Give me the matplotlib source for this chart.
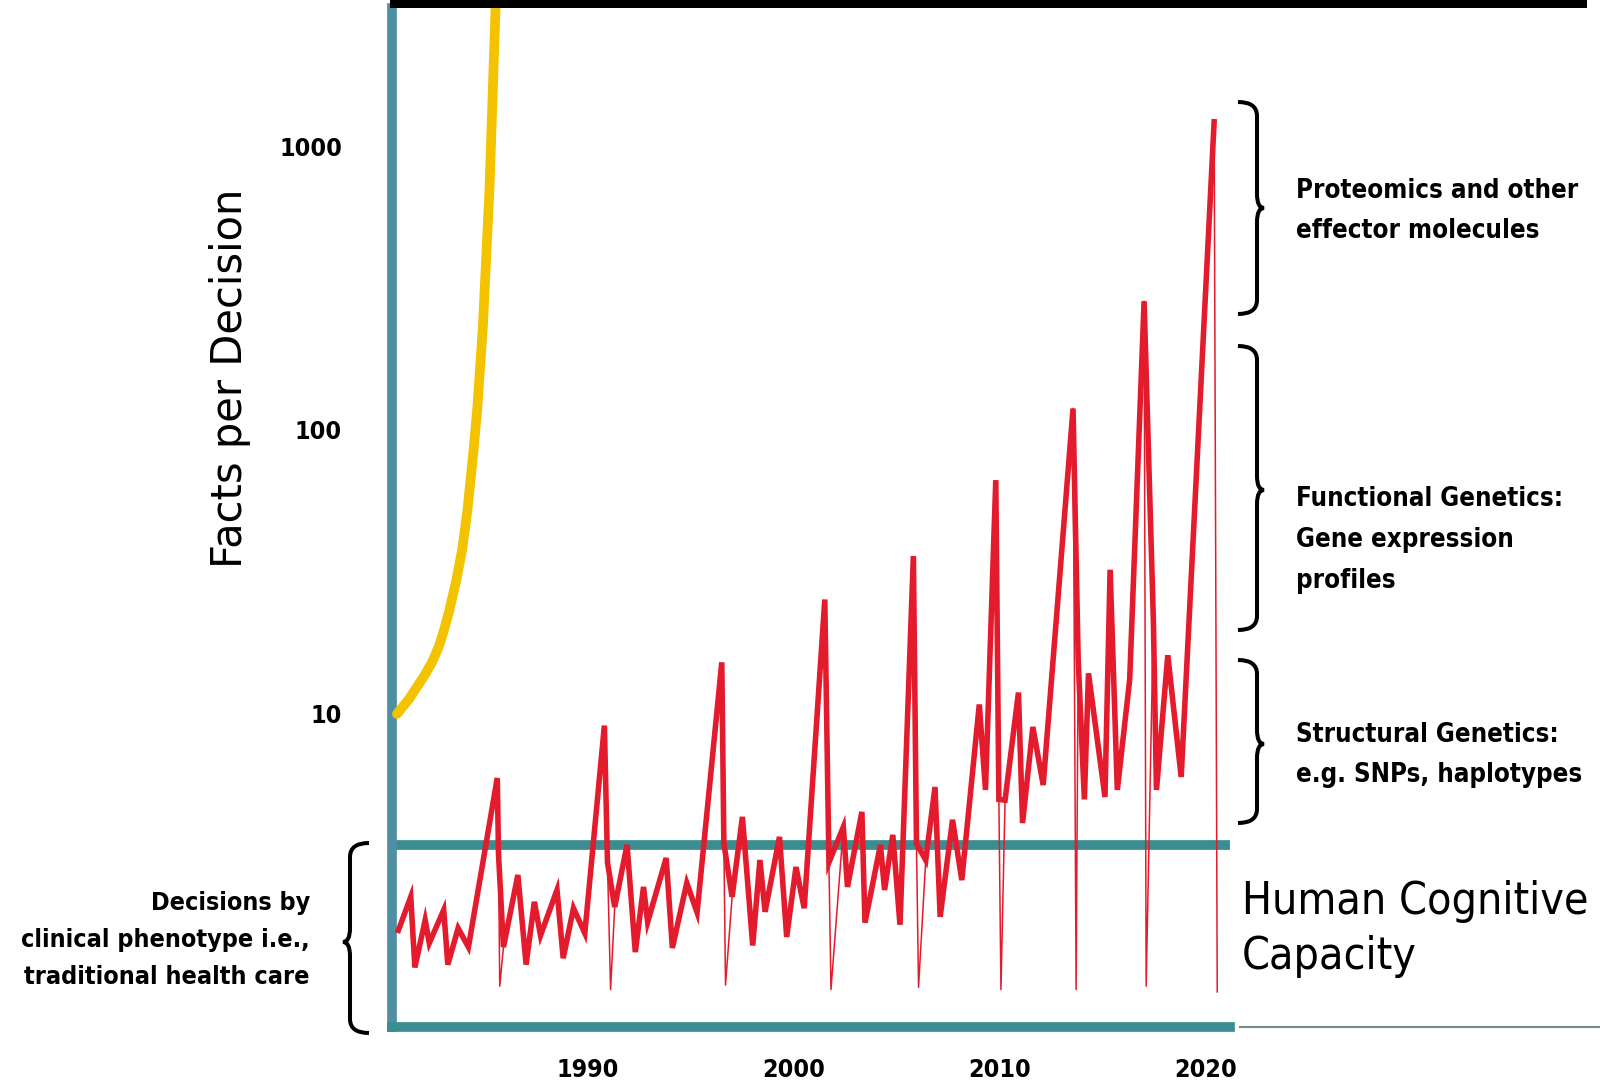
import numpy as np
import matplotlib
matplotlib.use('Agg')
import matplotlib.pyplot as plt
import matplotlib.font_manager as fm
from matplotlib.path import Path
from matplotlib.patches import PathPatch, Rectangle
from matplotlib.ticker import NullLocator

# red zigzag: "facts per decision" over the years
years_red = [1980.8, 1981.4, 1981.6, 1982.1, 1982.3, 1983.0, 1983.2, 1983.7, 1984.2,
             1985.6, 1985.66, 1985.72, 1985.9, 1986.6, 1987.0, 1987.4, 1987.7, 1988.5,
             1988.8, 1989.3, 1989.85, 1990.8, 1990.95, 1991.1, 1991.3, 1991.9, 1992.3,
             1992.7, 1992.9, 1993.8, 1994.1, 1994.8, 1995.3, 1996.5, 1996.6, 1996.68,
             1997.0, 1997.5, 1998.0, 1998.35, 1998.6, 1999.3, 1999.65, 2000.1, 2000.5,
             2001.5, 2001.7, 2001.8, 2002.4, 2002.6, 2003.3, 2003.45, 2004.2, 2004.4,
             2004.8, 2005.15, 2005.8, 2005.95, 2006.05, 2006.4, 2006.85, 2007.1, 2007.7,
             2008.15, 2009.0, 2009.3, 2009.8, 2009.95, 2010.05, 2010.25, 2010.9, 2011.1,
             2011.6, 2012.1, 2013.55, 2013.7, 2013.8, 2014.1, 2014.3, 2015.1, 2015.35,
             2015.7, 2016.3, 2017.0, 2017.1, 2017.45, 2017.6, 2018.15, 2018.8, 2020.4,
             2020.55]
vals_red = [1.73, 2.27, 1.28, 1.88, 1.56, 2.04, 1.31, 1.76, 1.51,
            5.95, 3.2, 1.10, 1.51, 2.71, 1.31, 2.18, 1.66, 2.40,
            1.38, 2.07, 1.69, 9.1, 3.0, 1.07, 2.09, 3.46, 1.45,
            2.46, 1.85, 3.11, 1.50, 2.54, 2.00, 15.2, 3.5, 1.11,
            2.27, 4.34, 1.53, 3.06, 2.01, 3.69, 1.64, 2.89, 2.07,
            25.3, 3.0, 1.07, 4.0, 2.46, 4.52, 1.84, 3.46, 2.40,
            3.75, 1.81, 36.0, 3.5, 1.09, 3.06, 5.53, 1.93, 4.24,
            2.60, 10.8, 5.40, 66.6, 5.0, 1.07, 4.97, 11.9, 4.13,
            9.0, 5.62, 119, 1.07, 15.5, 5.0, 13.9, 5.1, 32.2,
            5.4, 13.2, 284, 1.1, 21.4, 5.4, 16.1, 6.0, 1217,
            1.05]

# yellow curve
years_yel = [1980.73, 1981.32, 1982.05, 1982.45, 1982.78, 1983.0, 1983.25, 1983.6,
             1983.9, 1984.15, 1984.45, 1984.63, 1984.9, 1985.22, 1985.52]
vals_yel = [10, 11.3, 13.6, 15.3, 17.4, 19.6, 22.8, 29.3, 38, 52, 85, 119, 230, 700, 3100]

capacity = 3.46
y_ticks = [10, 100, 1000]
y_labels = ['10', '100', '1000']
x_ticks = [1990, 2000, 2010, 2020]
x_labels = ['1990', '2000', '2010', '2020']

names = {f.name for f in fm.fontManager.ttflist}
if 'Liberation Sans Narrow' in names:
    narrow = 'Liberation Sans Narrow'
    stretch = 'normal'
else:
    narrow = 'DejaVu Sans'
    stretch = 'condensed'

W, H = 1600, 1087
fig = plt.figure(figsize=(W / 100, H / 100), dpi=100)
ax = fig.add_axes([392 / W, 1 - 1027 / H, (1230 - 392) / W, (1027 - 8) / H])

ax.set_yscale('log')
ax.set_ylim(0.79, 3062)
ax.set_xlim(1980.49, 2021.17)

for s in ['top', 'right']:
    ax.spines[s].set_visible(False)
ax.spines['left'].set_color('#4e8fa3')
ax.spines['left'].set_linewidth(7)
ax.spines['bottom'].set_color('#3a8d91')
ax.spines['bottom'].set_linewidth(7)
ax.spines['left'].set_capstyle('projecting')
ax.spines['bottom'].set_capstyle('projecting')

ax.axhline(capacity, color='#3a8d91', lw=7, zorder=2)

yr = np.array(years_red)
vr = np.array(vals_red)
main = vr >= 1.2
ax.plot(yr[main], vr[main], color='#e31b2c', lw=4, solid_joinstyle='miter', zorder=3)
# thin tails down from the peaks
for i in np.where(~main)[0]:
    ax.plot(yr[i - 1:i + 2], vr[i - 1:i + 2], color='#e31b2c', lw=1.1, zorder=3)

ax.plot(years_yel, vals_yel, color='#f3c300', lw=7, solid_capstyle='round',
        solid_joinstyle='round', zorder=3)

ax.set_yticks(y_ticks)
ax.set_yticklabels(y_labels, fontsize=18, fontweight='bold', family=narrow, fontstretch=stretch)
ax.yaxis.set_minor_locator(NullLocator())
ax.set_xticks(x_ticks)
ax.set_xticklabels(x_labels, fontsize=18, fontweight='bold', family=narrow, fontstretch=stretch)
ax.tick_params(axis='both', length=0)
ax.tick_params(axis='y', pad=36)
ax.tick_params(axis='x', pad=22)

# overlay in pixel coordinates for braces and notes
ov = fig.add_axes([0, 0, 1, 1])
ov.set_xlim(0, W)
ov.set_ylim(H, 0)
ov.axis('off')
ov.patch.set_alpha(0)


def brace(x, y0, y1, ym, d=1, hook=19, tip=7, r=14):
    verts = [(x - d * hook, y0), (x, y0), (x, y0 + r),
             (x, ym - r),
             (x, ym), (x + d * tip, ym),
             (x, ym), (x, ym + r),
             (x, y1 - r),
             (x, y1), (x - d * hook, y1)]
    codes = [Path.MOVETO, Path.CURVE3, Path.CURVE3,
             Path.LINETO,
             Path.CURVE3, Path.CURVE3,
             Path.CURVE3, Path.CURVE3,
             Path.LINETO,
             Path.CURVE3, Path.CURVE3]
    ov.add_patch(PathPatch(Path(verts, codes), fill=False, lw=2.9, color='black',
                           capstyle='butt'))


brace(1257, 102, 314, 208)
brace(1257, 346, 630, 490)
brace(1257, 660, 823, 744)
brace(350, 843, 1033, 942, d=-1)

ov.add_patch(Rectangle((390, 0), 1197, 8, color='black', lw=0))
ov.plot([1240, W], [1027, 1027], color='#6e8b8b', lw=1.5)

lab = dict(fontsize=18.5, fontweight='bold', family=narrow, fontstretch=stretch,
           linespacing=1.75, va='center', ha='left')
ov.text(1296, 211, 'Proteomics and other\neffector molecules', **lab)
ov.text(1296, 540, 'Functional Genetics:\nGene expression\nprofiles', **lab)
ov.text(1296, 755, 'Structural Genetics:\ne.g. SNPs, haplotypes', **lab)
lab['ha'] = 'right'
lab['fontsize'] = 18
lab['linespacing'] = 1.7
ov.text(310, 940, 'Decisions by\nclinical phenotype i.e.,\ntraditional health care', **lab)

ov.text(1242, 929, 'Human Cognitive\nCapacity', fontsize=32, family=narrow,
        fontstretch=stretch, linespacing=1.35, va='center', ha='left')
ov.text(230, 378, 'Facts per Decision', rotation=90, ha='center', va='center',
        fontsize=30, family='DejaVu Sans')

fig.savefig('out.png', dpi=100)
